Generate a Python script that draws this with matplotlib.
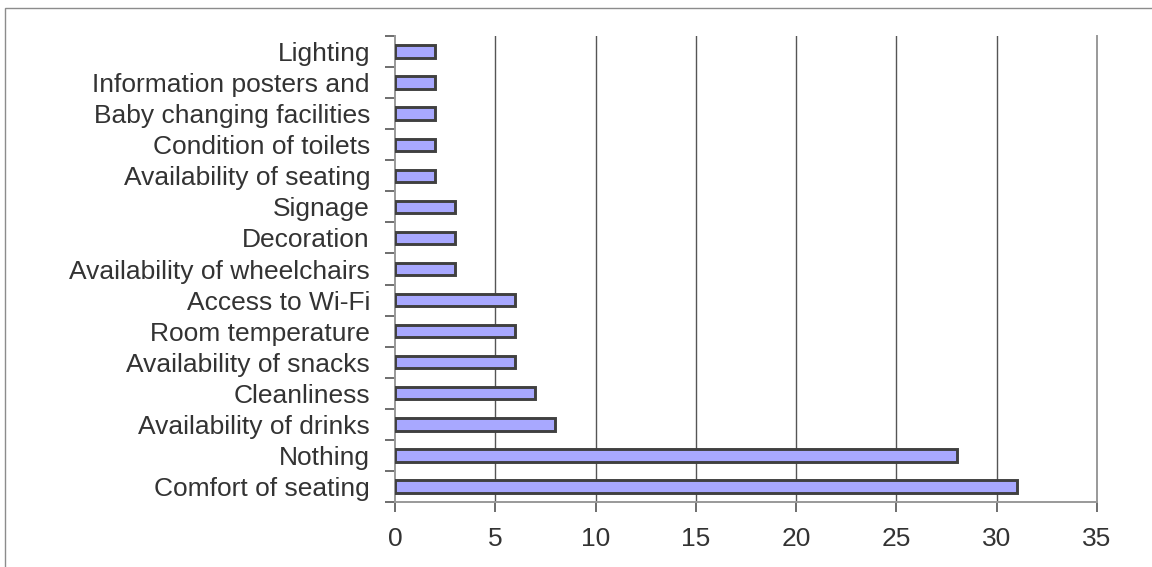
#!/usr/bin/env python3
# plot.py - horizontal bar chart of waiting room improvements
import matplotlib.pyplot as plt
import numpy as np
from matplotlib.patches import Rectangle

categories = [
    "Comfort of seating",
    "Nothing",
    "Availability of drinks",
    "Cleanliness",
    "Availability of snacks",
    "Room temperature",
    "Access to Wi-Fi",
    "Availability of wheelchairs",
    "Decoration",
    "Signage",
    "Availability of seating",
    "Condition of toilets",
    "Baby changing facilities",
    "Information posters and",
    "Lighting",
]
counts = [31, 28, 8, 7, 6, 6, 6, 3, 3, 3, 2, 2, 2, 2, 2]
x_ticks = [0, 5, 10, 15, 20, 25, 30, 35]

plt.rcParams['font.family'] = ['Liberation Sans', 'DejaVu Sans']

fig = plt.figure(figsize=(11.52, 5.67), dpi=100)
ax = fig.add_axes([395 / 1152, 1 - 502 / 567, 702 / 1152, 466 / 567])

# outer frame (only top and left edges visible)
fig.patches.append(Rectangle((5 / 1152, -0.05), 1.1, 1 - 8 / 567 + 0.05,
                             transform=fig.transFigure, fill=False,
                             edgecolor='#8c8c8c', linewidth=1.0))

y = np.arange(len(categories))
ax.barh(y, counts, height=0.40, color='#a8a8ff', edgecolor='#404040',
        linewidth=2.1, zorder=3)

ax.set_xlim(0, 35)
ax.set_ylim(-0.5, len(categories) - 0.5)
ax.set_xticks(x_ticks)
ax.set_xticklabels([str(t) for t in x_ticks], fontsize=19, color='#333333')

# category labels centred on bars, tick marks at band boundaries
ax.set_yticks(y)
ax.set_yticklabels(categories, fontsize=19, color='#333333')
ax.tick_params(axis='y', which='major', length=0, pad=18)
ax.set_yticks(np.arange(-0.5, len(categories), 1), minor=True)
ax.tick_params(axis='y', which='minor', length=7, width=1.2, color='#555555')
ax.tick_params(axis='x', length=7, width=1.2, color='#555555', pad=11)

for xv in x_ticks[1:-1]:
    ax.axvline(xv, color='#555555', linewidth=1.0, zorder=1)

ax.spines['top'].set_visible(False)
ax.spines['right'].set_color('#999999')
ax.spines['left'].set_color('#999999')
ax.spines['bottom'].set_color('#999999')
for s in ax.spines.values():
    s.set_linewidth(1.4)

fig.savefig('out.png', dpi=100)
